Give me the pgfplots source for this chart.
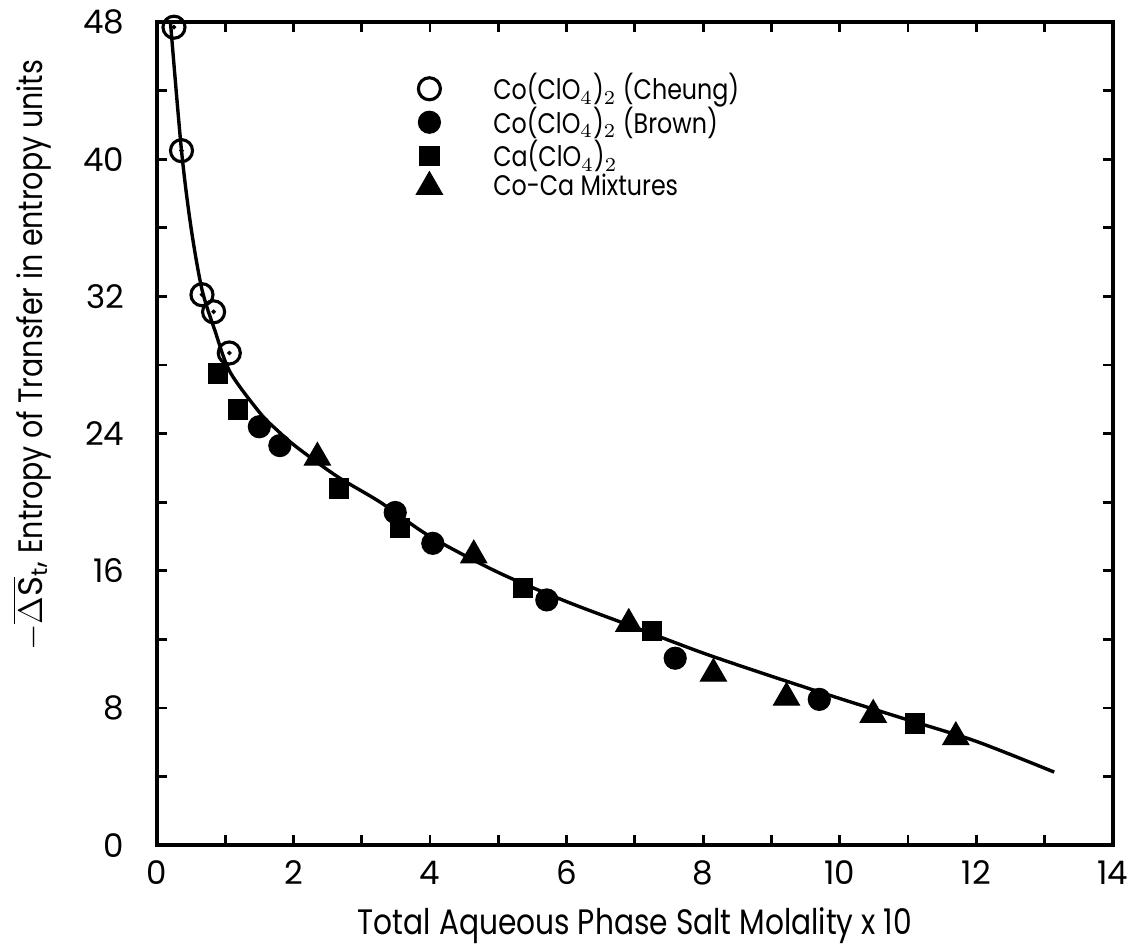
\documentclass[border=0pt]{standalone}
\usepackage{pgfplots}
\pgfplotsset{compat=1.18}
\usepackage{fontspec}
\setmainfont{Poppins}
\newfontfamily\narrowfont{Poppins}[FakeStretch=0.84]
\begin{document}
\begin{tikzpicture}
\useasboundingbox (-55.5pt,-35pt) rectangle (344.5pt,298.9pt);
\begin{axis}[
  scale only axis, width=338.1pt, height=291.1pt,
  xmin=0, xmax=14, ymin=0, ymax=48,
  xtick={0,2,...,14}, ytick={0,8,...,48},
  minor xtick={1,3,...,13}, minor ytick={4,12,...,44},
  tick align=inside, major tick length=3.5pt, minor tick length=3.5pt,
  tick style={black, line width=1pt},
  axis line style={line width=1.4pt},
  /pgf/number format/assume math mode=true,
  ticklabel style={font=\fontsize{11.5}{12}\selectfont},
  yticklabel shift=8pt,
  xticklabel shift=2pt,
  xlabel={Total Aqueous Phase Salt Molality x 10},
  ylabel={$-\overline{\Delta\mathrm{S}}_{\mathrm{t}}$, Entropy of Transfer in entropy units},
  xlabel style={font=\narrowfont\fontsize{12.5}{13}\selectfont, at={(axis description cs:0.5,-0.098)}, anchor=center},
  ylabel style={font=\narrowfont\fontsize{12}{13}\selectfont, at={(axis description cs:-0.131,0.595)}, anchor=center},
  legend style={draw=none, fill=none, at={(axis description cs:0.262,0.952)}, anchor=north west,
    font=\narrowfont\fontsize{10}{10}\selectfont, row sep=-3pt,
    /tikz/every odd column/.append style={column sep=16pt}},
  legend cell align=left,
]
\addplot[black, line width=1.2pt, smooth, forget plot] coordinates {
 (0.20,47.9) (0.36,40.5) (0.50,36.0) (0.66,32.4) (0.85,30.0) (1.07,27.6)
 (1.51,25.2) (1.76,24.2) (2.05,23.2) (2.64,21.5) (3.27,20.0) (4.0,18.0)
 (5.0,15.9) (6.0,14.2) (7.0,12.7) (8.0,11.2) (9.0,9.85) (10.0,8.55)
 (11.0,7.3) (12.0,6.05) (13.14,4.26)};
\addplot[only marks, mark=o, mark size=3.9pt, mark options={line width=1.1pt, fill=white}] coordinates {
 (0.25,47.7) (0.36,40.5) (0.66,32.1) (0.83,31.1) (1.06,28.7)};
\addlegendentry{Co(ClO$_4$)$_2$ (Cheung)}
\addplot[only marks, mark=*, mark size=3.9pt, black] coordinates {
 (1.50,24.4) (1.80,23.3) (3.49,19.4) (4.04,17.6) (5.71,14.3) (7.59,10.9) (9.70,8.5)};
\addlegendentry{Co(ClO$_4$)$_2$ (Brown)}
\addplot[only marks, mark=square*, mark size=3.4pt, black] coordinates {
 (0.89,27.5) (1.19,25.4) (2.67,20.8) (3.56,18.5) (5.36,15.0) (7.25,12.5) (11.10,7.1)};
\addlegendentry{Ca(ClO$_4$)$_2$}
\addplot[only marks, mark=triangle*, mark size=5.3pt, black] coordinates {
 (2.35,22.6) (4.64,16.9) (6.91,12.9) (8.15,10.0) (9.22,8.6) (10.49,7.6) (11.70,6.3)};
\addlegendentry{Co-Ca Mixtures}
\addplot[only marks, mark=*, mark size=0.6pt, black, forget plot] coordinates {
 (0.25,47.7) (0.36,40.5) (0.66,32.1) (0.83,31.1) (1.06,28.7)};
\end{axis}
\end{tikzpicture}
\end{document}
